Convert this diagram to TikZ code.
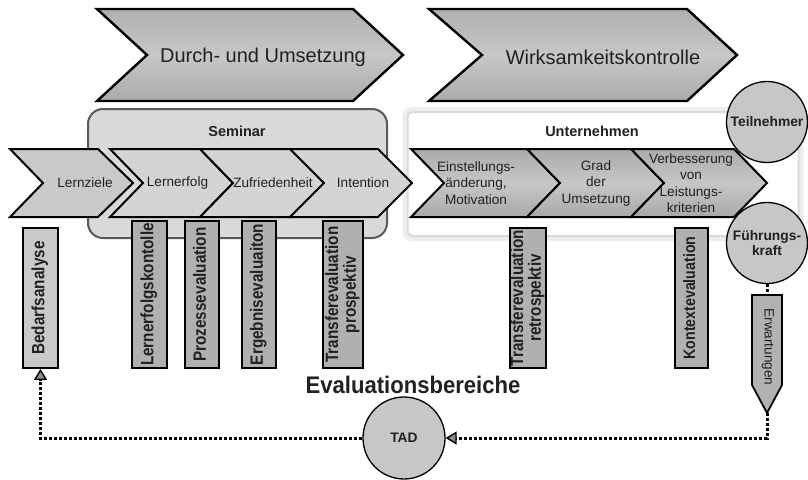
\documentclass[tikz,border=0pt]{standalone}
\usepackage{fontspec}
\setmainfont{Liberation Sans}
\usetikzlibrary{arrows.meta}
\definecolor{ink}{gray}{0.13}
% tall, slightly condensed lettering for the evaluation bars
\newcommand\squeezed[1]{\scalebox{0.86}[1]{\begin{tabular}{@{}c@{}}#1\end{tabular}}}
\begin{document}
\begin{tikzpicture}[x=1pt,y=-1pt,
  bigchev/.style={draw=black, line width=2.4pt, line join=miter,
    top color=black!31, bottom color=black!33, middle color=black!22},
  phase/.style={font=\fontsize{20}{24}\selectfont, text=ink},
  group/.style={rounded corners=15pt, inner sep=0pt},
  grouptitle/.style={font=\bfseries\fontsize{14.5}{17}\selectfont, text=ink},
  semchev/.style={draw=black, line width=2pt, line join=miter, fill=black!17},
  firmchev/.style={draw=black, line width=2pt, line join=miter,
    top color=black!33, bottom color=black!34, middle color=black!22},
  steptext/.style={font=\fontsize{13.6}{16.5}\selectfont, align=center, text=ink, inner sep=0pt},
  evalbox/.style={draw=black, line width=1.8pt, fill=black!31, rotate=90, inner sep=0pt,
    font=\bfseries\fontsize{17.8}{16.5}\selectfont, text=ink},
  person/.style={circle, draw=black, line width=1.3pt, fill=black!22, inner sep=0pt,
    font=\bfseries\fontsize{13.8}{15.5}\selectfont, align=center, text=ink},
  flow/.style={line width=3pt, dash pattern=on 3pt off 2pt},
  opentip/.tip={Triangle[length=11pt, width=13pt, line width=1.4pt, fill=black!45]}
]
\useasboundingbox (0,0) rectangle (808,479);
\fill[white] (0,0) rectangle (808,479);

% phase banners
\draw[bigchev] (97,9) -- (353,9) -- (403,55) -- (353,101) -- (97,101) -- (147,55) -- cycle;
\node[phase] (durch) at (263,57) {Durch- und Umsetzung};
\draw[bigchev] (429,9) -- (687,9) -- (737,55) -- (687,101) -- (429,101) -- (482,55) -- cycle;
\node[phase] (wirk) at (603,57) {Wirksamkeitskontrolle};

% group frames
\node[group, draw=black!65, line width=2pt, fill=black!15,
  minimum width=299pt, minimum height=129pt] (seminar) at (237.5,173.5) {};
\node[grouptitle] (seminartitle) at (237,131) {Seminar};
\node[group, rounded corners=5pt, draw=black!7, line width=6pt,
  minimum width=395pt, minimum height=128pt] (firmhalo) at (603,174) {};
\node[group, rounded corners=5pt, draw=black!14, line width=2pt, fill=white,
  minimum width=391pt, minimum height=124pt] (firm) at (603,174) {};
\node[grouptitle] (firmtitle) at (592,131) {Unternehmen};

% evaluation areas
\node[evalbox, fill=black!21, minimum width=140pt, minimum height=35pt] (bedarf) at (40.5,298) {\squeezed{Bedarfsanalyse}};
\node[evalbox, minimum width=147pt, minimum height=35pt] (lek) at (149.5,294.5) {\squeezed{Lernerfolgskontolle}};
\node[evalbox, minimum width=147pt, minimum height=34pt] (proz) at (202,294.5) {\squeezed{Prozessevaluation}};
\node[evalbox, minimum width=147pt, minimum height=34pt] (erg) at (259,294.5) {\squeezed{Ergebnisevaluaiton}};
\node[evalbox, minimum width=147pt, minimum height=40pt] (tprosp) at (343,294.5) {\squeezed{Transferevaluation\\prospektiv}};
\node[evalbox, minimum width=140pt, minimum height=34pt] (tretro) at (528,298) {\squeezed{Transferevaluation\\retrospektiv}};
\node[evalbox, font=\bfseries\fontsize{16.5}{16.5}\selectfont, minimum width=140pt, minimum height=33pt] (kontext) at (691.5,298) {\squeezed{Kontextevaluation}};

% seminar steps
\draw[semchev, fill=black!21] (10,149) -- (98,149) -- (133,183) -- (98,217) -- (10,217) -- (43,183) -- cycle;
\node[steptext] (lernziele) at (85,183) {Lernziele};
\draw[semchev] (110,149) -- (200,149) -- (233,183) -- (200,217) -- (110,217) -- (143,183) -- cycle;
\node[steptext] (lernerfolg) at (177.5,183) {Lernerfolg};
\draw[semchev] (200,149) -- (290,149) -- (324,183) -- (290,217) -- (200,217) -- (233,183) -- cycle;
\node[steptext] (zufrieden) at (273,183) {Zufriedenheit};
\draw[semchev] (290,149) -- (378,149) -- (412,183) -- (378,217) -- (290,217) -- (324,183) -- cycle;
\node[steptext] (intention) at (363,183) {Intention};

% company steps
\draw[firmchev] (411,149) -- (527,149) -- (560,183) -- (527,217) -- (411,217) -- (444,183) -- cycle;
\node[steptext] (einst) at (476,183) {Einstellungs-\\änderung,\\Motivation};
\draw[firmchev] (527,149) -- (631,149) -- (664,183) -- (631,217) -- (527,217) -- (560,183) -- cycle;
\node[steptext] (grad) at (596,183) {Grad\\der\\Umsetzung};
\draw[firmchev] (631,149) -- (734,149) -- (767,183) -- (734,217) -- (631,217) -- (664,183) -- cycle;
\node[steptext] (verb) at (691,183) {Verbesserung\\von\\Leistungs-\\kriterien};

% stakeholders
\node[person, minimum size=81pt] (teil) at (767,122) {Teilnehmer};
\node[person, minimum size=81pt] (fk) at (767,243) {Führungs-\\kraft};
\node[person, minimum size=82pt] (tad) at (404,438) {TAD};

% expectations
\draw[draw=black, line width=1.8pt, line join=miter, fill=black!30]
  (752,295) -- (782,295) -- (782,385) -- (767,413) -- (752,385) -- cycle;
\coordinate (erwtop) at (767,295);
\coordinate (erwtip) at (767,413);
\node[steptext, rotate=-90] (erw) at (768,347) {Erwartungen};

\node[font=\bfseries\fontsize{24}{28}\selectfont, text=ink] (bereiche) at (413,385) {\scalebox{0.92}[1]{Evaluationsbereiche}};

% feedback loop
\draw[flow] (fk.south) -- (erwtop);
\draw[flow, -opentip] (erwtip) |- (tad.east);
\draw[flow, -opentip] (tad.west) -| (bedarf.west);
\end{tikzpicture}
\end{document}
